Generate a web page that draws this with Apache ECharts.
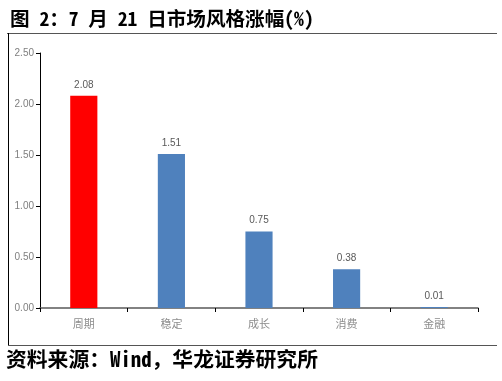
<!DOCTYPE html>
<html>
<head>
<meta charset="utf-8">
<script src="https://cdn.jsdelivr.net/npm/echarts@6/dist/echarts.min.js"></script>
<style>html,body{margin:0;padding:0;background:#fff}#c{width:502px;height:381px}</style>
</head>
<body>
<div id="c"></div>
<script>
var titleText = '图 2：7 月 21 日市场风格涨幅(%)';
var sourceText = '资料来源：Wind，华龙证券研究所';
var categories = ['周期', '稳定', '成长', '消费', '金融'];
var values = [2.08, 1.51, 0.75, 0.38, 0.01];
var barColors = ['#ff0000', '#4f81bd', '#4f81bd', '#4f81bd', '#4f81bd'];
var yTicks = {min: 0, max: 2.5, interval: 0.5};

var monoFont = '"Noto Sans Mono CJK SC", "Noto Sans CJK SC"';
var chart = echarts.init(document.getElementById('c'));
chart.setOption({
  animation: false,
  title: {
    text: titleText, left: 5, top: 4,
    textStyle: {fontFamily: monoFont, fontSize: 19.6, fontWeight: 'bold', color: '#000'}
  },
  graphic: [
    {type: 'line', shape: {x1: 7, y1: 33.5, x2: 497, y2: 33.5}, style: {stroke: '#555', lineWidth: 1}},
    {type: 'line', shape: {x1: 8.5, y1: 33, x2: 8.5, y2: 345}, style: {stroke: '#000', lineWidth: 1}},
    {type: 'line', shape: {x1: 8, y1: 345.5, x2: 497, y2: 345.5}, style: {stroke: '#555', lineWidth: 1}},
    {type: 'text', left: 6, top: 349, style: {text: sourceText, font: 'bold 20.8px ' + monoFont, fill: '#000'}}
  ],
  grid: {left: 40, right: 24, top: 53, bottom: 73},
  xAxis: {
    type: 'category', data: categories,
    axisLine: {lineStyle: {color: '#595959', width: 1.5}},
    axisTick: {show: true, alignWithLabel: false, length: 4, lineStyle: {color: '#000'}},
    axisLabel: {color: '#8c8c8c', fontSize: 11, fontFamily: 'Noto Sans CJK SC', margin: 10}
  },
  yAxis: {
    type: 'value', min: yTicks.min, max: yTicks.max, interval: yTicks.interval,
    axisLine: {show: true, lineStyle: {color: '#000'}},
    axisTick: {show: true, inside: false, length: 4, lineStyle: {color: '#000'}},
    splitLine: {show: false},
    axisLabel: {color: '#7f7f7f', fontSize: 10, fontFamily: 'Liberation Sans', margin: 6,
      formatter: function (v) { return v.toFixed(2); }}
  },
  series: [{
    type: 'bar',
    data: values.map(function (v, i) { return {value: v, itemStyle: {color: barColors[i]}}; }),
    barWidth: '31%',
    label: {show: true, position: 'top', distance: 6, color: '#595959', fontSize: 10, fontFamily: 'Liberation Sans',
      formatter: function (p) { return p.value.toFixed(2); }}
  }]
});
</script>
</body>
</html>
